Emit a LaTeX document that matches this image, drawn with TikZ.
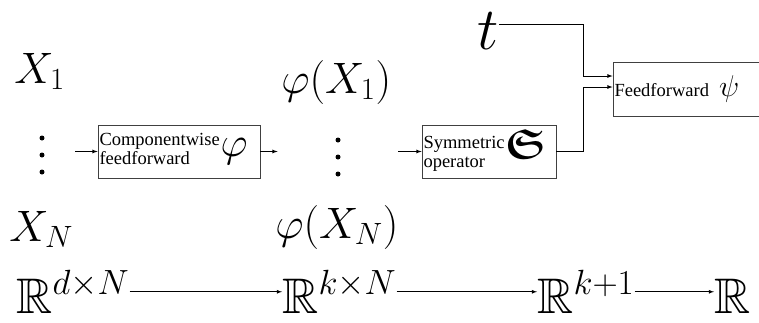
\RequirePackage{fix-cm}
\documentclass[tikz,border=0pt]{standalone}
\usepackage{amsmath,amssymb}
\usepackage{fontspec}
\newfontfamily\boxfont{Liberation Serif}
% scalable AMS fonts
\DeclareFontFamily{U}{msb}{}
\DeclareFontShape{U}{msb}{m}{n}{<-> msbm10}{}
\DeclareFontFamily{U}{euf}{}
\DeclareFontShape{U}{euf}{m}{n}{<-> eufm10}{}
\DeclareFontShape{U}{euf}{b}{n}{<-> eufb10}{}
\begin{document}
\begin{tikzpicture}[
  x=1pt, y=-1pt,
  line width=0.8pt,
  block/.style={draw=black!75, rectangle, inner xsep=1.5pt, inner ysep=0pt,
    minimum height=53pt, text width=#1, align=left,
    font=\boxfont\fontsize{18.5}{19}\selectfont},
  sym/.style={inner sep=0pt, font=\fontsize{44}{44}\selectfont},
  dotcol/.style={inner sep=0pt, minimum height=40pt},
  space/.style={inner sep=0pt, font=\fontsize{50}{50}\selectfont},
  -latex,
]
  \useasboundingbox (0,0) rectangle (759,322);

  % inputs
  \node[sym, anchor=base west] (x1) at (14,83) {$X_1$};
  \node[dotcol, minimum width=66pt] (xdots) at (42,155) {};
  \node[sym, anchor=base west] (xN) at (9,241) {$X_N$};

  \node[block=159pt] (cw) at (179,151.5)
    {\hbox to 159pt{\begin{tabular}{@{}l@{}}Componentwise\\feedforward\end{tabular}\hfill{\fontsize{42}{42}\selectfont$\varphi$}\kern11pt}};

  % features
  \node[sym, anchor=base west] (phi1) at (281,93) {$\varphi(X_1)$};
  \node[dotcol, minimum width=120pt] (phidots) at (338,157) {};
  \node[sym, anchor=base west] (phiN) at (275,238) {$\varphi(X_N)$};

  \foreach \k in {-17,0,17} {
    \fill ([yshift=\k pt]xdots.center) circle (2.5pt);
    \fill ([yshift=\k pt]phidots.center) circle (2.5pt);
  }

  \node[block=131pt] (sym) at (489,151.5)
    {\hbox to 131pt{\begin{tabular}{@{}l@{}}Symmetric\\operator\end{tabular}\hfill{\fontsize{42}{42}\selectfont$\boldsymbol{\mathfrak{S}}$}\kern9pt}};

  \node[sym, anchor=base west, font=\fontsize{60}{60}\selectfont] (t) at (477,49) {$t$};

  \node[block=144pt, minimum height=54pt] (ff) at (686.5,89)
    {Feedforward\hspace{10pt}{\fontsize{30}{30}\selectfont$\psi$}};

  \draw (xdots.east |- cw.west) -- (cw.west);
  \draw (cw.east) -- (cw.east -| phidots.west);
  \draw (phidots.east |- sym.west) -- (sym.west);
  \draw ([yshift=6pt]t.east) -| ([xshift=-29pt,yshift=13pt]ff.west) -- ([yshift=13pt]ff.west);
  \draw (sym.east) -| ([xshift=-29pt,yshift=2pt]ff.west) -- ([yshift=2pt]ff.west);

  % spaces
  \node[space, anchor=base west] (rd) at (16,313) {$\mathbb{R}^{d\times N}$};
  \node[space, anchor=base west] (rk) at (282,313) {$\mathbb{R}^{k\times N}$};
  \node[space, anchor=base west] (rk1) at (537,313) {$\mathbb{R}^{k+1}$};
  \node[space, anchor=base west] (rout) at (714,313) {$\mathbb{R}$};

  \draw (rd.east) -- (rd.east -| rk.west);
  \draw (rk.east) -- (rk.east -| rk1.west);
  \draw (rk1.east) -- (rk1.east -| rout.west);
\end{tikzpicture}
\end{document}
